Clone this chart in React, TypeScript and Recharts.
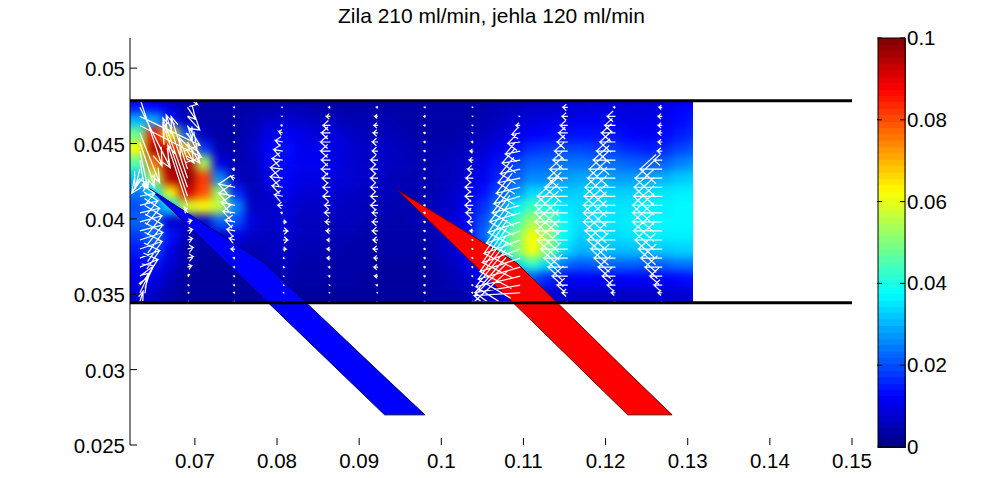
import React from 'react'
import { Area, ComposedChart, Line, ReferenceArea, ReferenceLine, Scatter, XAxis, YAxis } from 'recharts'

const FONT = '"Liberation Sans", Arial, sans-serif'

const xTicks = [0.07, 0.08, 0.09, 0.1, 0.11, 0.12, 0.13, 0.14, 0.15]
const yTicks = [0.025, 0.03, 0.035, 0.04, 0.045, 0.05]
const barTicks = [0, 0.02, 0.04, 0.06, 0.08, 0.1]

// channel walls
const wallTop = 0.04784
const wallBottom = 0.03444

// needle outlines, [lower, upper]
const blueNeedle = [
  { x: 0.0645, range: [0.042, 0.042] },
  { x: 0.0783, range: [0.03477, 0.03714] },
  { x: 0.0931, range: [0.027, 0.02951] },
  { x: 0.098, range: [0.027, 0.027] },
]
const redNeedle = [
  { x: 0.0947, range: [0.0419, 0.0419] },
  { x: 0.1092, range: [0.0342, 0.03707] },
  { x: 0.1227, range: [0.027, 0.02984] },
  { x: 0.1281, range: [0.027, 0.027] },
]

// speed field, values in 1e-3 of the colour scale
const heatX = [0.0631, 0.0651, 0.0671, 0.0691, 0.0711, 0.0731, 0.0751, 0.0771, 0.0791, 0.0811, 0.0831, 0.0851, 0.0871, 0.0891, 0.0911, 0.0931, 0.0951, 0.0971, 0.0991, 0.1011, 0.1031, 0.1051, 0.1071, 0.1091, 0.1111, 0.1131, 0.1151, 0.1171, 0.1191, 0.1211, 0.1231, 0.1251, 0.1271, 0.1291, 0.1311]
const heatY = [0.0475, 0.0465, 0.0456, 0.0446, 0.0437, 0.0427, 0.0417, 0.0408, 0.0398, 0.0388, 0.0379, 0.0369, 0.036, 0.035]
const heatRows = [
  [14, 12, 8, 5, 4, 4, 4, 4, 4, 5, 5, 4, 4, 4, 4, 4, 4, 4, 4, 4, 4, 4, 5, 6, 7, 7, 8, 8, 9, 9, 9, 9, 10, 12, 13],
  [30, 30, 14, 5, 4, 4, 4, 5, 7, 8, 7, 6, 6, 5, 5, 5, 4, 4, 4, 4, 4, 5, 6, 8, 9, 10, 10, 11, 11, 11, 10, 10, 11, 13, 15],
  [48, 86, 62, 20, 6, 4, 4, 6, 10, 12, 10, 9, 9, 7, 6, 6, 5, 4, 4, 4, 5, 6, 8, 10, 12, 13, 14, 14, 14, 14, 12, 11, 13, 15, 17],
  [62, 96, 92, 66, 18, 5, 4, 7, 12, 14, 11, 11, 10, 8, 7, 7, 6, 5, 5, 5, 6, 8, 11, 14, 17, 18, 19, 19, 18, 18, 16, 15, 16, 19, 21],
  [46, 76, 98, 94, 54, 10, 5, 6, 11, 13, 11, 11, 10, 8, 7, 7, 6, 5, 5, 6, 7, 10, 14, 19, 22, 22, 24, 24, 23, 23, 22, 21, 22, 25, 27],
  [32, 56, 94, 99, 82, 26, 6, 5, 10, 12, 10, 10, 9, 8, 7, 6, 5, 5, 5, 6, 8, 11, 16, 22, 26, 26, 28, 29, 29, 28, 28, 28, 30, 32, 33],
  [24, 34, 62, 92, 80, 52, 16, 6, 8, 11, 9, 8, 8, 7, 6, 6, 5, 5, 5, 7, 9, 14, 20, 27, 34, 33, 32, 33, 33, 33, 33, 34, 35, 36, 36],
  [20, 24, 34, 58, 62, 56, 26, 7, 7, 9, 7, 7, 7, 6, 6, 5, 5, 5, 6, 7, 11, 17, 25, 36, 44, 40, 35, 34, 35, 35, 35, 36, 36, 37, 37],
  [22, 22, 8, 8, 8, 22, 20, 9, 7, 9, 6, 6, 6, 6, 5, 5, 4, 5, 6, 8, 12, 20, 30, 44, 54, 48, 37, 34, 35, 35, 36, 36, 37, 37, 37],
  [18, 24, 14, 5, 4, 7, 10, 7, 6, 8, 6, 6, 5, 5, 4, 4, 4, 4, 5, 8, 12, 22, 36, 50, 62, 52, 37, 33, 34, 34, 35, 35, 36, 36, 36],
  [15, 20, 10, 4, 4, 4, 5, 5, 6, 7, 5, 5, 5, 4, 4, 4, 4, 4, 5, 7, 11, 18, 34, 50, 62, 50, 34, 30, 31, 31, 31, 31, 32, 33, 33],
  [12, 14, 8, 4, 3, 3, 4, 4, 5, 6, 4, 4, 4, 4, 4, 3, 3, 3, 4, 6, 9, 14, 24, 34, 42, 34, 23, 21, 22, 22, 22, 21, 22, 24, 24],
  [10, 10, 6, 3, 3, 3, 3, 3, 4, 5, 4, 4, 4, 4, 3, 3, 3, 3, 4, 5, 7, 10, 14, 18, 20, 16, 12, 12, 12, 12, 12, 12, 12, 13, 14],
  [8, 7, 4, 3, 3, 3, 3, 3, 3, 3, 3, 3, 3, 3, 3, 3, 3, 3, 4, 4, 5, 6, 8, 9, 9, 8, 8, 7, 7, 7, 7, 7, 8, 8, 9],
]

// quiver stations, top to bottom
const stationY = [0.048, 0.0474, 0.0468, 0.0462, 0.0457, 0.0451, 0.0445, 0.0439, 0.0433, 0.0427, 0.0421, 0.0415, 0.0409, 0.0404, 0.0398, 0.0392, 0.0386, 0.038, 0.0374, 0.0368, 0.0362, 0.0356, 0.0351, 0.0345]

// each profile: base x in m, u and v displacement in mm
const profile01 = { x: 0.0633, u: [2.7, 3.7, 7.3, 7.5, 2.4, 1.8, 1, 0.6, -0.6, -1, 1, 1.8, 2.2, 2.4, 2.7, 2.8, 2.8, 2.7, 2.4, 2.2, 1.7, 1.2, 0.9, 0.4], v: [-4.5, -4, -1.9, -2.1, -3.3, -3, -2.5, -1.9, -1.3, -1, 0.3, 0.2, 0.3, 0.3, 0.4, 0.4, 0.5, 0.5, 0.5, 0.5, 0.7, 0.8, 1, 0.7] }
const profile02 = { x: 0.0691, u: [1.2, 1, 1.5, 0.6, 1.2, 1.5, 0.8, -1, -2, -2.6, -3, -3, -2.4, -0.4, 0.5, 0.6, 0.6, 0.7, 0.7, 0.5, 0.2, 0.15, 0.15, 0.15], v: [-0.4, -0.8, -0.9, -1, -1.2, -1.4, -0.8, 1.5, 3.5, 4.2, 4.6, 4.8, 4, 0.4, 0.1, 0.1, 0.1, 0.1, 0.1, 0.1, 0.1, 0, 0, 0] }
const profile03 = { x: 0.0749, u: [-0.15, -0.15, -0.15, -0.15, -0.15, -0.15, -0.15, -0.2, -0.3, -0.5, -2, -2, -1.7, -1.5, -1.2, -1, -0.7, -0.5, -0.2, -0.15, -0.15, -0.15, -0.15, -0.15], v: [0, 0, 0, 0, 0, 0, 0, 0, 0, 0.1, 0.2, 0.2, 0.2, 0.1, 0.1, 0.1, 0.1, 0, 0, 0, 0, 0, 0, 0] }
const profile04 = { x: 0.0807, u: [-0.1, -0.1, -0.1, -0.2, -0.5, -0.9, -1.1, -1.3, -1.5, -1.5, -1.3, -1, -0.6, -0.2, 0.4, 0.6, 0.6, 0.4, 0.15, 0.15, 0.1, 0.1, 0.1, 0.1], v: [0, 0, 0, 0, 0.1, 0.1, 0.1, 0.1, 0.1, 0.1, 0.1, 0.1, 0, 0, 0, 0, 0, 0, 0, 0, 0, 0, 0, 0] }
const profile05 = { x: 0.0865, u: [-0.1, -0.2, -0.5, -0.9, -1.1, -1.2, -1.2, -1.1, -1.1, -1, -0.9, -0.9, -0.7, -0.7, -0.6, -0.5, -0.4, -0.4, -0.4, -0.2, -0.2, -0.1, -0.1, -0.1], v: [0, 0, 0, 0, 0, 0, 0, 0, 0, 0, 0, 0, 0, 0, 0, 0, 0, 0, 0, 0, 0, 0, 0, 0] }
const profile06 = { x: 0.0923, u: [-0.1, -0.2, -0.4, -0.5, -0.6, -0.7, -0.7, -0.9, -0.9, -0.9, -0.9, -0.9, -0.9, -0.7, -0.7, -0.7, -0.6, -0.6, -0.5, -0.5, -0.4, -0.2, -0.1, -0.1], v: [0, 0, 0, 0, 0, 0, 0, 0, 0, 0, 0, 0, 0, 0, 0, 0, 0, 0, 0, 0, 0, 0, 0, 0] }
const profile07 = { x: 0.0981, u: [-0.15, -0.15, -0.2, -0.2, -0.2, -0.2, -0.2, -0.2, -0.2, -0.2, -0.2, -0.2, -0.2, -0.2, -0.2, -0.2, -0.2, -0.2, -0.2, -0.2, -0.2, -0.2, -0.2, -0.15], v: [0, 0, 0, 0, 0, 0, 0, 0, 0, 0, 0, 0, 0, 0, 0, 0, 0, 0, 0, 0, 0, 0, 0, 0] }
const profile08 = { x: 0.1039, u: [-0.1, -0.1, -0.1, -0.1, -0.1, -0.2, -0.4, -0.5, -0.7, -0.9, -1, -1, -1, -0.9, -0.7, -0.4, -0.15, -0.15, -0.15, -0.15, -0.15, -0.15, -0.15, -0.15], v: [0, 0, 0, 0, 0, 0, 0, 0, 0, 0, 0, 0, 0, 0, 0, 0, 0, 0, 0, 0, 0, 0, 0, 0] }
const profile09 = { x: 0.1096, u: [0, 0, -0.1, -0.5, -1, -1.5, -1.8, -2.2, -2.4, -2.7, -2.9, -3.2, -3.4, -3.7, -3.9, -4.1, -4.4, -4.6, -4.9, -5.1, -5.4, -5.5, -5.6, -5.6], v: [0, 0, 0, 0, -0.1, -0.1, -0.2, -0.2, -0.3, -0.3, -0.4, -0.5, -0.5, -0.6, -0.7, -0.8, -0.9, -0.9, -0.9, -0.8, -0.7, -0.5, -0.2, 0] }
const profile10 = { x: 0.1154, u: [-0.2, -0.6, -0.7, -0.9, -1.1, -1.3, -1.6, -1.8, -2.2, -2.4, -2.8, -3.7, -4, -4, -4, -3.9, -3.7, -3.3, -2.9, -2.4, -1.9, -1.3, -0.7, -0.1], v: [0, 0, 0, 0, 0, 0, 0, 0, 0, 0, 0, 0, 0, 0, 0, 0, 0, 0, 0, 0, 0, 0, 0, 0] }
const profile11 = { x: 0.1212, u: [-0.1, -0.2, -1, -1.3, -1.7, -1.9, -2.3, -2.7, -3.2, -3.4, -3.7, -3.8, -3.9, -3.9, -3.9, -3.7, -3.4, -3, -2.6, -2.1, -1.6, -1, -0.5, -0.1], v: [0, 0, 0, 0, 0, 0, 0, 0, 0, 0, 0, 0, 0, 0, 0, 0, 0, 0, 0, 0, 0, 0, 0, 0] }
const profile12 = { x: 0.1269, u: [-0.2, -0.4, -0.5, -0.5, -0.5, -0.5, -0.6, -1, -2.7, -3.3, -3.4, -3.5, -3.6, -3.6, -3.6, -3.5, -3.3, -2.9, -2.6, -2.1, -1.5, -1, -0.5, -0.1], v: [0, 0, 0, 0, 0, 0, 0, 0, 0, 0, 0, 0, 0, 0, 0, 0, 0, 0, 0, 0, 0, 0, 0, 0] }
const profiles = [profile01, profile02, profile03, profile04, profile05, profile06, profile07, profile08, profile09, profile10, profile11, profile12]

const colorLevels = [0, 0.0016, 0.0031, 0.0047, 0.0063, 0.0078, 0.0094, 0.0109, 0.0125, 0.0141, 0.0156, 0.0172, 0.0188, 0.0203, 0.0219, 0.0234, 0.025, 0.0266, 0.0281, 0.0297, 0.0313, 0.0328, 0.0344, 0.0359, 0.0375, 0.0391, 0.0406, 0.0422, 0.0438, 0.0453, 0.0469, 0.0484, 0.05, 0.0516, 0.0531, 0.0547, 0.0563, 0.0578, 0.0594, 0.0609, 0.0625, 0.0641, 0.0656, 0.0672, 0.0688, 0.0703, 0.0719, 0.0734, 0.075, 0.0766, 0.0781, 0.0797, 0.0813, 0.0828, 0.0844, 0.0859, 0.0875, 0.0891, 0.0906, 0.0922, 0.0938, 0.0953, 0.0969, 0.0984, 0.1]
const barRange = [{ x: 0 }, { x: 1 }]

// jet colormap on 0..0.1
function jet(value: number) {
  const t = value / 0.1
  const ch = (c: number) => Math.round(255 * Math.max(0, Math.min(1, 1.5 - Math.abs(4 * t - c))))
  return `rgb(${ch(3)},${ch(2)},${ch(1)})`
}

const heatCells = heatRows.flatMap((row, r) =>
  row.map((v, c) => ({ x: heatX[c], y: heatY[r], value: v / 1000, r, c }))
)

// tail -> tip -> barb -> tip -> barb, null y breaks the line between arrows
const ALPHA = 0.72
const BETA = 0.5
const quiver = profiles.flatMap((p) =>
  stationY.flatMap((y, i) => {
    const u = p.u[i] / 1000
    const v = p.v[i] / 1000
    const tx = p.x + u
    const ty = y + v
    // the long arrows in the jet have much smaller heads
    const a = Math.abs(p.v[i]) > 1.5 ? 0.22 : ALPHA
    return [
      { x: p.x, y },
      { x: tx, y: ty },
      { x: tx - a * (u + BETA * v), y: ty - a * (v - BETA * u) },
      { x: tx, y: ty },
      { x: tx - a * (u - BETA * v), y: ty - a * (v + BETA * u) },
      { x: tx, y: null },
    ]
  })
)

const topWall = [{ x: 0.0621, y: wallTop }, { x: 0.15, y: wallTop }]
const bottomWall = [{ x: 0.0621, y: wallBottom }, { x: 0.15, y: wallBottom }]

function HeatCell(props: any) {
  const { cx, cy, payload } = props
  const w = 17.4
  const h = 15.5
  // edge cells run past the clip so the blur does not fade at the border
  const left = payload.c === 0 ? 16 : 0
  const top = payload.r === 0 ? 16 : 0
  const bottom = payload.r === heatRows.length - 1 ? 16 : 0
  const right = payload.c === heatX.length - 1 ? 16 : 0
  return (
    <rect
      x={cx - w / 2 - left}
      y={cy - h / 2 - top}
      width={w + left + right}
      height={h + top + bottom}
      fill={jet(payload.value)}
    />
  )
}

function XTick({ x, y, payload }: any) {
  return (
    <g>
      <line x1={x} x2={x} y1={y - 7} y2={y} stroke="#000" />
      <text x={x} y={y + 23} textAnchor="middle" fontSize={20.5} fontFamily={FONT} fill="#000">
        {String(payload.value)}
      </text>
    </g>
  )
}

function YTick({ x, y, payload }: any) {
  return (
    <g>
      <line x1={x} x2={x + 7} y1={y} y2={y} stroke="#000" />
      <text x={x - 5} y={y + 8} textAnchor="end" fontSize={20.5} fontFamily={FONT} fill="#000">
        {String(payload.value)}
      </text>
    </g>
  )
}

function BarTick({ x, y, payload }: any) {
  return (
    <g>
      <line x1={x - 5} x2={x} y1={y} y2={y} stroke="#000" />
      <line x1={x - 28} x2={x - 23} y1={y} y2={y} stroke="#000" />
      <text x={x + 2} y={y + 7} textAnchor="start" fontSize={20.5} fontFamily={FONT} fill="#000">
        {String(payload.value)}
      </text>
    </g>
  )
}

export default function App() {
  return (
    <div style={{ position: 'absolute', left: 0, top: 0, width: 1001, height: 478, background: '#fff', overflow: 'hidden' }}>
      <style>{`.heat{filter:url(#heatBlur);clip-path:url(#heatClip)}`}</style>
      <div style={{ position: 'absolute', left: 0, width: 983, top: 4, textAlign: 'center', fontFamily: FONT, fontSize: 21, lineHeight: '24px', color: '#000' }}>
        Zila 210 ml/min, jehla 120 ml/min
      </div>
      <div style={{ position: 'absolute', left: 0, top: 0 }}>
        <ComposedChart width={1001} height={478} margin={{ top: 38, right: 149, bottom: 0, left: 70 }}>
          <defs>
            <filter id="heatBlur" x="-5%" y="-10%" width="110%" height="120%" colorInterpolationFilters="sRGB">
              <feGaussianBlur stdDeviation="5" />
            </filter>
            <clipPath id="heatClip">
              <rect x={130} y={100} width={563} height={202} />
            </clipPath>
          </defs>
          <XAxis
            type="number"
            dataKey="x"
            domain={[0.0621, 0.15]}
            ticks={xTicks}
            interval={0}
            height={33}
            axisLine={false}
            tickLine={false}
            tickSize={0}
            tickMargin={0}
            tick={<XTick />}
            allowDataOverflow
          />
          <YAxis
            type="number"
            dataKey="y"
            domain={[0.025, 0.052]}
            ticks={yTicks}
            interval={0}
            width={60}
            tickLine={false}
            tickSize={0}
            tickMargin={0}
            axisLine={{ stroke: '#000' }}
            tick={<YTick />}
            allowDataOverflow
          />
          <Scatter className="heat" data={heatCells} dataKey="y" shape={<HeatCell />} isAnimationActive={false} zIndex={10} />
          <Area data={blueNeedle} dataKey="range" type="linear" fill="#0000ff" fillOpacity={1} stroke="#00006a" strokeWidth={1} dot={false} isAnimationActive={false} zIndex={20} />
          <Area data={redNeedle} dataKey="range" type="linear" fill="#ff0000" fillOpacity={1} stroke="#6a0000" strokeWidth={1} dot={false} isAnimationActive={false} zIndex={20} />
          <Line data={quiver} dataKey="y" type="linear" stroke="#fff" strokeWidth={1.2} dot={false} connectNulls={false} isAnimationActive={false} zIndex={30} />
          <Line data={topWall} dataKey="y" type="linear" stroke="#000" strokeWidth={3} dot={false} isAnimationActive={false} zIndex={40} />
          <Line data={bottomWall} dataKey="y" type="linear" stroke="#000" strokeWidth={3} dot={false} isAnimationActive={false} zIndex={40} />
        </ComposedChart>
      </div>
      <div style={{ position: 'absolute', left: 877, top: 0 }}>
        <ComposedChart width={124} height={478} data={barRange} margin={{ top: 38, right: 0, bottom: 31, left: 0 }}>
          <XAxis type="number" dataKey="x" domain={[0, 1]} hide allowDataOverflow />
          <YAxis yAxisId="left" orientation="left" type="number" domain={[0, 0.1]} width={1} tick={false} tickLine={false} axisLine={{ stroke: '#000' }} allowDataOverflow />
          <YAxis
            yAxisId="right"
            orientation="right"
            type="number"
            domain={[0, 0.1]}
            ticks={barTicks}
            interval={0}
            width={96}
            tickLine={false}
            tickSize={0}
            tickMargin={0}
            axisLine={{ stroke: '#000' }}
            tick={<BarTick />}
            allowDataOverflow
          />
          {colorLevels.slice(0, -1).map((level, i) => (
            <ReferenceArea
              key={level}
              yAxisId="right"
              x1={0}
              x2={1}
              y1={level}
              y2={colorLevels[i + 1]}
              fill={jet(level + 0.0008)}
              fillOpacity={1}
              stroke={jet(level + 0.0008)}
              strokeWidth={1}
              shapeRendering="crispEdges"
            />
          ))}
          <ReferenceLine yAxisId="right" y={0.1} stroke="#000" />
          <ReferenceLine yAxisId="right" y={0} stroke="#000" />
        </ComposedChart>
      </div>
    </div>
  )
}
